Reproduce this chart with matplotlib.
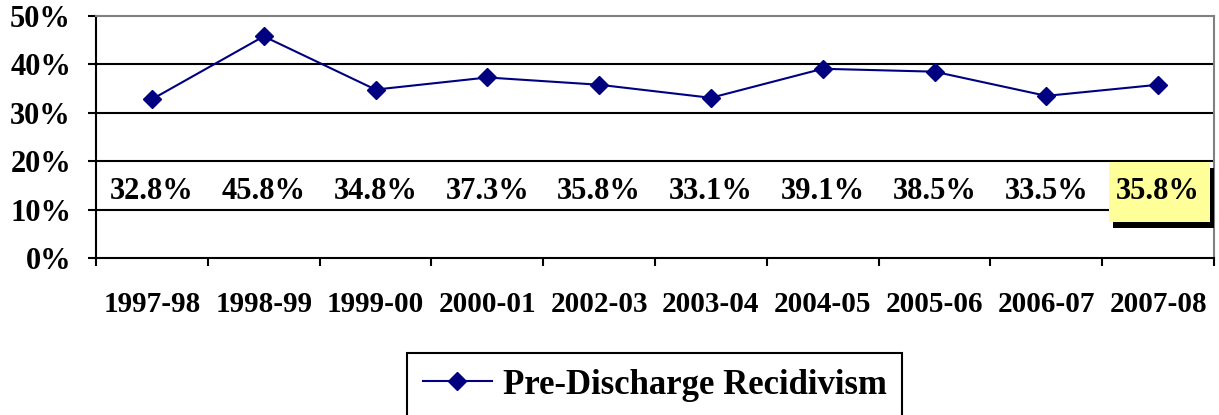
import matplotlib.pyplot as plt
import matplotlib.patheffects as pe
from matplotlib.patches import Rectangle
from matplotlib.ticker import FixedLocator, FuncFormatter

plt.rcParams['font.family'] = ['Liberation Serif', 'DejaVu Serif']
plt.rcParams['font.weight'] = 'bold'

years = ['1997-98', '1998-99', '1999-00', '2000-01', '2002-03',
         '2003-04', '2004-05', '2005-06', '2006-07', '2007-08']
recid = [32.8, 45.8, 34.8, 37.3, 35.8, 33.1, 39.1, 38.5, 33.5, 35.8]

fig = plt.figure(figsize=(12.19, 4.15), dpi=100)
ax = fig.add_axes([0.0788, 0.3783, 0.9171, 0.5831])

x = list(range(len(years)))
ax.plot(x, recid, color='#000080', lw=1.5, marker='D', ms=9,
        label='Pre-Discharge Recidivism', zorder=3)

ax.set_xlim(-0.5, len(years) - 0.5)
ax.set_ylim(0, 50)
ax.set_yticks([0, 10, 20, 30, 40, 50])
ax.yaxis.set_major_formatter(FuncFormatter(lambda v, p: f'{v:.0f}%'))
ax.set_xticks(x)
ax.set_xticklabels(years)
ax.xaxis.set_minor_locator(FixedLocator([i - 0.5 for i in range(len(years) + 1)]))
ax.tick_params(axis='x', which='major', length=0, pad=24, labelsize=21)
ax.tick_params(axis='x', which='minor', length=6, width=1.5, direction='out')
ax.tick_params(axis='y', length=6, width=1.5, pad=12, labelsize=22)

for v in [10, 20, 30, 40]:
    ax.axhline(v, color='black', lw=1.5, zorder=1)

for s in ['top', 'right']:
    ax.spines[s].set_color('#808080')
    ax.spines[s].set_linewidth(1.5)
for s in ['left', 'bottom']:
    ax.spines[s].set_color('black')
    ax.spines[s].set_linewidth(1.5)

# value labels along the 10-20% band, latest year highlighted
last = len(recid) - 1
for i, v in enumerate(recid):
    ax.text(i, 13.8, f'{v:.1f}%', ha='center', va='center',
            fontsize=22, fontweight='bold', zorder=5)

box = Rectangle((last - 0.44, 7.4), 0.9, 12.4, facecolor='#ffff99',
                edgecolor='none', zorder=4, clip_on=False)
box.set_path_effects([
    pe.SimplePatchShadow(offset=(3, -4), shadow_rgbFace='black', alpha=1),
    pe.Normal()])
ax.add_patch(box)

leg = fig.legend(loc='center', bbox_to_anchor=(0.537, 0.072), fontsize=25,
                 handlelength=2.0, fancybox=False, edgecolor='black',
                 framealpha=1, borderpad=0.45, handletextpad=0.3)
leg.get_frame().set_linewidth(1.5)

fig.savefig('out.png', dpi=100)
